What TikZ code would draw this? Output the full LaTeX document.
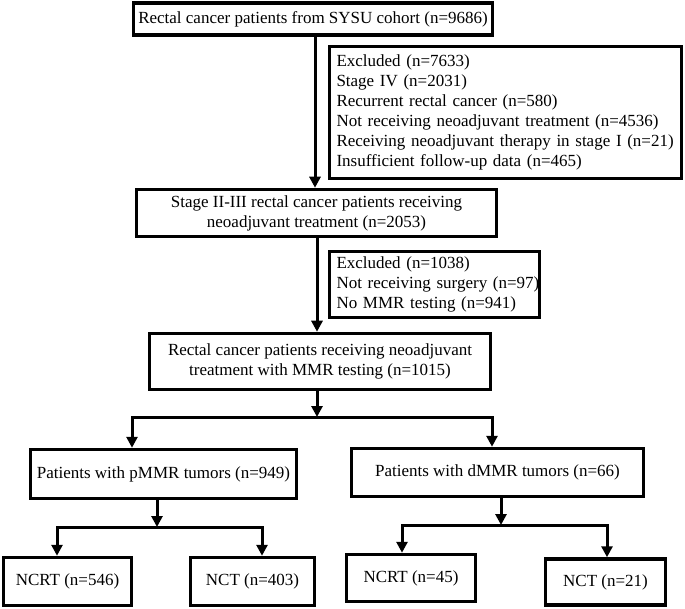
\documentclass[tikz,border=0pt]{standalone}
\usepackage{fontspec}
\setmainfont{Liberation Serif}
\usetikzlibrary{arrows.meta}
\tikzset{
  box/.style={draw=black, line width=3.5pt, fill=white, align=center, inner sep=0pt,
    font=\fontsize{17}{20}\selectfont},
  exbox/.style={box, align=left, inner xsep=7pt},
  conn/.style={line width=3pt, draw=black},
  arr/.style={conn, -{Triangle[length=11pt,width=11pt]}},
}
\begin{document}
\begin{tikzpicture}[x=1pt,y=-1pt]
\useasboundingbox (0,0) rectangle (685,609);
% boxes
\node[box, minimum width=359pt, minimum height=32pt] (b1) at (313,19) {Rectal cancer patients from SYSU cohort (n=9686)};
\node[exbox, minimum width=352pt, minimum height=132pt, text width=338pt] (ex1) at (505.5,112.5) {\mbox{Excluded (n=7633)}\\\mbox{Stage IV (n=2031)}\\\mbox{Recurrent rectal cancer (n=580)}\\\mbox{Not receiving neoadjuvant treatment (n=4536)}\\\mbox{Receiving neoadjuvant therapy in stage I (n=21)}\\\mbox{Insufficient follow-up data (n=465)}};
\node[box, minimum width=360pt, minimum height=47pt] (b2) at (316.5,213) {Stage II-III rectal cancer patients receiving\\neoadjuvant treatment (n=2053)};
\node[exbox, minimum width=210pt, minimum height=66pt, text width=196pt] (ex2) at (434.5,284.5) {\mbox{Excluded (n=1038)}\\\mbox{Not receiving surgery (n=97)}\\\mbox{No MMR testing (n=941)}};
\node[box, minimum width=341pt, minimum height=56pt] (b3) at (320,361.5) {Rectal cancer patients receiving neoadjuvant\\treatment with MMR testing (n=1015)};
\node[box, minimum width=266pt, minimum height=49pt] (p) at (163.5,474) {Patients with pMMR tumors (n=949)};
\node[box, minimum width=292pt, minimum height=48pt] (d) at (497.5,472.5) {Patients with dMMR tumors (n=66)};
\node[box, minimum width=128pt, minimum height=48pt] (n1) at (67.5,581.5) {NCRT (n=546)};
\node[box, minimum width=124pt, minimum height=48pt] (n2) at (252.5,581.5) {NCT (n=403)};
\node[box, minimum width=129pt, minimum height=47pt] (n3) at (411,578) {NCRT (n=45)};
\node[box, minimum width=120pt, minimum height=46pt] (n4) at (605.5,582) {NCT (n=21)};
% junctions
\coordinate (j1) at (317,417);
\coordinate (j2) at (157,527);
\coordinate (j3) at (501,525);
% connectors
\draw[arr] (b1.south -| 315,0) -- (b2.north -| 315,0);
\draw[arr] (b2.south -| 317,0) -- (b3.north -| 317,0);
\draw[arr] (b3.south -| j1) -- (j1);
\draw[arr] (j1) -- (132,417) -- (p.north -| 132,0);
\draw[arr] (j1) -- (492,417) -- (d.north -| 492,0);
\draw[arr] (p.south -| j2) -- (j2);
\draw[arr] (j2) -- (57,527) -- (n1.north -| 57,0);
\draw[arr] (j2) -- (262,527) -- (n2.north -| 262,0);
\draw[arr] (d.south -| j3) -- (j3);
\draw[arr] (j3) -- (402,525) -- (n3.north -| 402,0);
\draw[arr] (j3) -- (607,525) -- (n4.north -| 607,0);
\end{tikzpicture}
\end{document}
